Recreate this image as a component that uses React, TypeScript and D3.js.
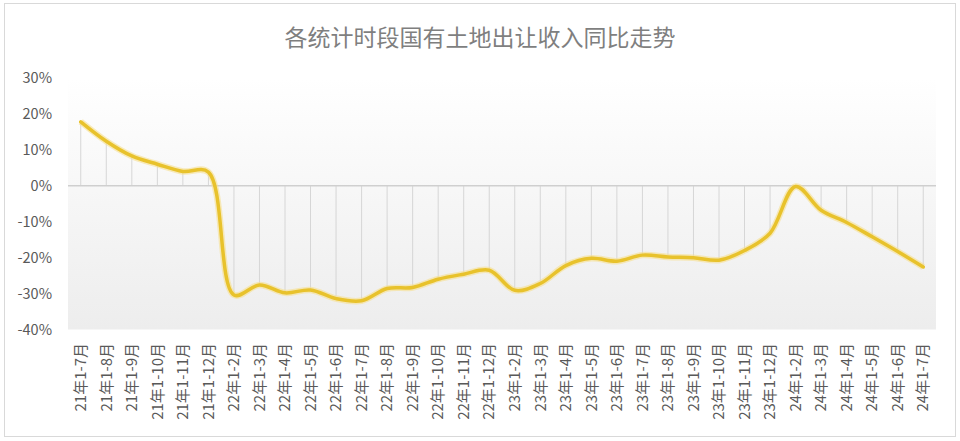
import React, { useRef, useEffect } from 'react';
import * as d3 from 'd3';

const categories = [
  '21年1-7月', '21年1-8月', '21年1-9月', '21年1-10月', '21年1-11月', '21年1-12月',
  '22年1-2月', '22年1-3月', '22年1-4月', '22年1-5月', '22年1-6月', '22年1-7月',
  '22年1-8月', '22年1-9月', '22年1-10月', '22年1-11月', '22年1-12月',
  '23年1-2月', '23年1-3月', '23年1-4月', '23年1-5月', '23年1-6月', '23年1-7月',
  '23年1-8月', '23年1-9月', '23年1-10月', '23年1-11月', '23年1-12月',
  '24年1-2月', '24年1-3月', '24年1-4月', '24年1-5月', '24年1-6月', '24年1-7月',
];

// 同比 (%)
const yoyValues = [
  17.8, 12.4, 8.3, 6.0, 4.0, 3.8,
  -30.4, -27.6, -29.8, -29.0, -31.4, -32.0,
  -28.6, -28.3, -26.0, -24.6, -23.5,
  -29.1, -27.2, -22.2, -20.2, -21.0, -19.3,
  -19.8, -20.0, -20.7, -18.0, -13.2,
  -0.2, -6.8, -10.2, -14.2, -18.3, -22.6,
];

const yTicks = [30, 20, 10, 0, -10, -20, -30, -40];

const title = '各统计时段国有土地出让收入同比走势';

const W = 960;
const H = 441;
const FONT = '"Noto Sans CJK SC", "Microsoft YaHei", sans-serif';

const App: React.FC = () => {
  const ref = useRef<SVGSVGElement | null>(null);

  useEffect(() => {
    document.body.style.margin = '0';
    const svg = d3.select(ref.current);
    svg.selectAll('*').remove();

    const left = 68, right = 936, top = 78, bottom = 329.5;

    const x = d3.scaleBand<string>().domain(categories).range([left, right]);
    const y = d3.scaleLinear().domain([-40, 30]).range([bottom, top]);
    const cx = (c: string) => (x(c) ?? 0) + x.bandwidth() / 2;

    const defs = svg.append('defs');
    const grad = defs.append('linearGradient')
      .attr('id', 'plotBg')
      .attr('x1', 0).attr('y1', 0).attr('x2', 0).attr('y2', 1);
    grad.append('stop').attr('offset', '0%').attr('stop-color', '#ffffff');
    grad.append('stop').attr('offset', '100%').attr('stop-color', '#ededed');

    // chart frame
    svg.append('rect')
      .attr('x', 4.5).attr('y', 3.5)
      .attr('width', 951).attr('height', 433)
      .attr('fill', '#fff')
      .attr('stroke', '#d9d9d9');

    svg.append('text')
      .attr('x', W / 2).attr('y', 46)
      .attr('text-anchor', 'middle')
      .attr('font-family', FONT)
      .attr('font-size', 23)
      .attr('fill', '#7f7f7f')
      .text(title);

    // plot area
    svg.append('rect')
      .attr('x', left).attr('y', top)
      .attr('width', right - left).attr('height', bottom - top)
      .attr('fill', 'url(#plotBg)');

    // drop lines
    svg.append('g')
      .selectAll('line')
      .data(categories)
      .join('line')
      .attr('x1', d => cx(d)).attr('x2', d => cx(d))
      .attr('y1', y(0))
      .attr('y2', (d, i) => y(yoyValues[i]))
      .attr('stroke', '#d6d6d6')
      .attr('stroke-width', 1);

    // zero line
    svg.append('line')
      .attr('x1', left).attr('x2', right)
      .attr('y1', y(0)).attr('y2', y(0))
      .attr('stroke', '#cfcfcf')
      .attr('stroke-width', 1.5);

    // y labels
    svg.append('g')
      .selectAll('text')
      .data(yTicks)
      .join('text')
      .attr('x', 52)
      .attr('y', d => y(d))
      .attr('dy', '0.35em')
      .attr('text-anchor', 'end')
      .attr('font-family', FONT)
      .attr('font-size', 14.5)
      .attr('fill', '#595959')
      .text(d => `${d}%`);

    // x labels
    svg.append('g')
      .selectAll('text')
      .data(categories)
      .join('text')
      .attr('transform', d => `translate(${cx(d)},343) rotate(-90)`)
      .attr('dy', '0.35em')
      .attr('text-anchor', 'end')
      .attr('font-family', FONT)
      .attr('font-size', 15)
      .attr('fill', '#595959')
      .text(d => d);

    const line = d3.line<number>()
      .x((d, i) => cx(categories[i]))
      .y(d => y(d))
      .curve(d3.curveCatmullRom.alpha(0.5));

    svg.append('path')
      .datum(yoyValues)
      .attr('d', line)
      .attr('fill', 'none')
      .attr('stroke', '#f6e08e')
      .attr('stroke-opacity', 0.6)
      .attr('stroke-width', 6.5)
      .attr('stroke-linejoin', 'round');

    svg.append('path')
      .datum(yoyValues)
      .attr('d', line)
      .attr('fill', 'none')
      .attr('stroke', '#e8c22c')
      .attr('stroke-width', 3.5)
      .attr('stroke-linejoin', 'round')
      .attr('stroke-linecap', 'round');
  }, []);

  return <svg ref={ref} width={W} height={H} style={{ display: 'block' }}></svg>;
};

export default App;
